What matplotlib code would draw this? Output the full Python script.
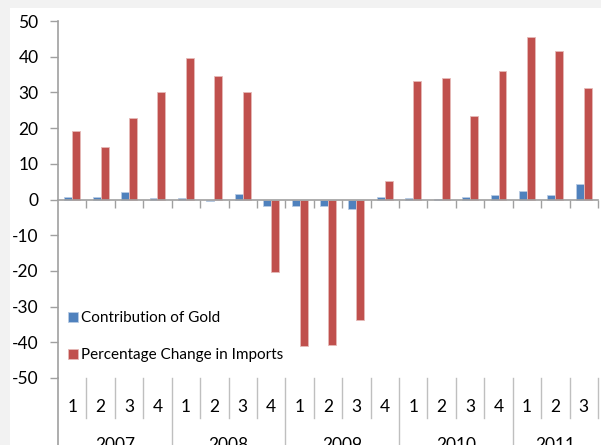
import numpy as np
import matplotlib.pyplot as plt
from matplotlib.patches import Rectangle

plt.rcParams['font.family'] = ['Lato', 'DejaVu Sans']
plt.rcParams['axes.unicode_minus'] = False

years = ['2007', '2008', '2009', '2010', '2011']
quarters = ['1', '2', '3', '4'] * 4 + ['1', '2', '3']
gold = [0.6, 0.6, 2.0, 0.5, 0.3, -0.4, 1.6, -1.8,
        -1.8, -1.8, -2.7, 0.6, 0.5, 0.1, 0.8, 1.2,
        2.3, 1.4, 4.3]
imports = [19.1, 14.6, 22.7, 30.2, 39.6, 34.5, 30.0, -20.4,
           -41.1, -40.8, -33.8, 5.1, 33.2, 33.9, 23.5, 35.9,
           45.5, 41.6, 31.3]
quarters_per_year = [4, 4, 4, 4, 3]

blue = '#4f81bd'
red = '#c0504d'
axis_grey = '#a0a0a0'

fig = plt.figure(figsize=(6.01, 4.45), dpi=100, facecolor='#f2f2f2')
fig.patches.append(Rectangle((10 / 601, 0), 1, 437 / 445, transform=fig.transFigure,
                             facecolor='white', edgecolor='none', zorder=-10))
ax = fig.add_axes([58 / 601, 67 / 445, 540 / 601, 357 / 445])
ax.set_facecolor('none')

n = len(gold)
x = np.arange(n) + 0.5
w = 0.28
ax.bar(x - w / 2, gold, w, color=blue, edgecolor='#b8cce4', linewidth=0.6,
       label='Contribution of Gold', zorder=2)
ax.bar(x + w / 2, imports, w, color=red, edgecolor='#e6b9b8', linewidth=0.6,
       label='Percentage Change in Imports', zorder=2)

ax.set_xlim(0, n)
ax.set_ylim(-50, 50)
ax.set_yticks(np.arange(-50, 51, 10))
ax.tick_params(axis='y', length=6, width=1, color=axis_grey, pad=8, labelsize=12.5)
for s in ['top', 'right']:
    ax.spines[s].set_visible(False)
ax.spines['left'].set_color(axis_grey)
ax.spines['left'].set_linewidth(1.2)
ax.spines['bottom'].set_position(('data', 0))
ax.spines['bottom'].set_color(axis_grey)
ax.spines['bottom'].set_linewidth(1.2)
ax.set_xticks(np.arange(1, n + 1))
ax.set_xticklabels([])
ax.tick_params(axis='x', length=6, width=1, color=axis_grey, direction='out')

# category axis: quarter and year labels
tr = ax.get_xaxis_transform()
ax.plot([0, 0], [0, -0.2], transform=tr, color=axis_grey, lw=1.2, clip_on=False)
for i, q in enumerate(quarters):
    ax.text(x[i], -0.08, q, transform=tr, ha='center', va='center', fontsize=12.5)
start = 0
for yr, cnt in zip(years, quarters_per_year):
    for k in range(1, cnt):
        ax.plot([start + k] * 2, [0, -0.112], transform=tr, color='#bfbfbf', lw=1, clip_on=False)
    if start > 0:
        ax.plot([start] * 2, [0, -0.2], transform=tr, color='#bfbfbf', lw=1, clip_on=False)
    ax.text(start + cnt / 2, -0.166, yr, transform=tr, ha='center', va='top', fontsize=12.5)
    start += cnt
ax.plot([n, n], [0, -0.112], transform=tr, color='#bfbfbf', lw=1, clip_on=False)

ax.legend(loc='lower left', bbox_to_anchor=(0.008, 0.027), frameon=False, fontsize=11,
          handlelength=0.65, handleheight=0.65, handletextpad=0.2, labelspacing=1.5,
          borderaxespad=0)

fig.savefig('out.png', dpi=100)
